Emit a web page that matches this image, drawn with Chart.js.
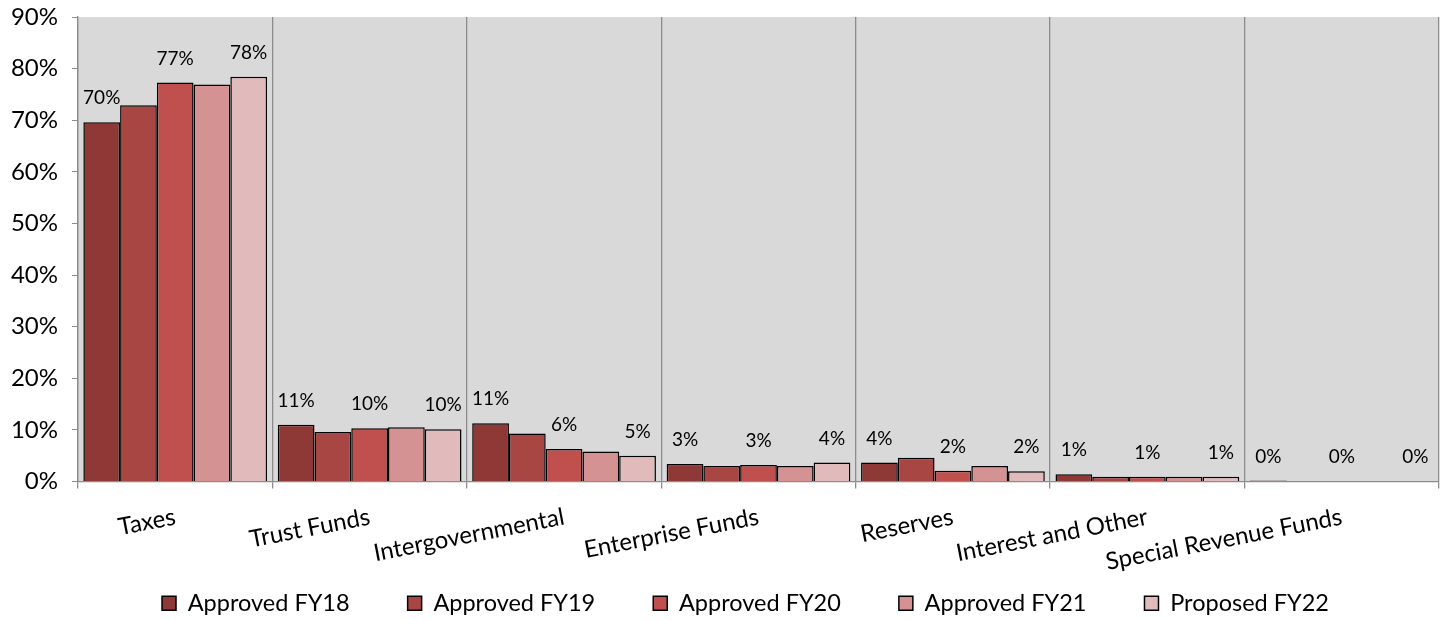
<!DOCTYPE html>
<html>
<head>
<meta charset="utf-8">
<script src="https://cdn.jsdelivr.net/npm/chart.js@4/dist/chart.umd.min.js"></script>
<style>
html,body{margin:0;padding:0;background:#fff;}
#wrap{width:1447px;height:620px;position:relative;}
</style>
</head>
<body>
<div id="wrap"><canvas id="c" width="1447" height="620"></canvas></div>
<script>
const categories = ["Taxes","Trust Funds","Intergovernmental","Enterprise Funds","Reserves","Interest and Other","Special Revenue Funds"];
const seriesNames = ["Approved FY18","Approved FY19","Approved FY20","Approved FY21","Proposed FY22"];
const approvedFY18 = [69.6, 11.0, 11.3, 3.4, 3.7, 1.4, 0.2];
const approvedFY19 = [72.9, 9.6, 9.3, 3.0, 4.6, 0.9, 0.1];
const approvedFY20 = [77.3, 10.3, 6.3, 3.2, 2.1, 0.9, 0.1];
const approvedFY21 = [76.9, 10.5, 5.8, 3.0, 3.0, 0.9, 0.1];
const proposedFY22 = [78.4, 10.1, 5.0, 3.7, 2.0, 0.9, 0.1];
const yTicks = [0,10,20,30,40,50,60,70,80,90];
const colors = ["#8F3937","#A84644","#C0504D","#D49392","#E1BBBC"];
const labelledSeries = [0,2,4];

const FONT = "Lato";
const allSeries = [approvedFY18, approvedFY19, approvedFY20, approvedFY21, proposedFY22];

const plotBg = {
  id:'plotBg',
  afterLayout(chart){
    // centre the legend row as in the reference (Chart.js counts trailing padding)
    const lg = chart.legend;
    if (lg) { lg.left += 26; lg.right += 26; }
  },
  beforeDraw(chart){
    const {ctx, chartArea:a} = chart;
    // let the rotated category labels extend below the axis box
    if (chart.scales.x) chart.scales.x._computeLabelArea = function(){ return undefined; };
    ctx.save(); ctx.fillStyle = '#D9D9D9';
    ctx.fillRect(a.left, a.top, a.right-a.left, a.bottom-a.top);
    ctx.restore();
  }
};
const valueLabels = {
  id:'valueLabels',
  afterDatasetsDraw(chart){
    const ctx = chart.ctx;
    ctx.save();
    ctx.font = "19px " + FONT;
    ctx.fillStyle = '#000';
    ctx.textAlign = 'center';
    ctx.textBaseline = 'middle';
    labelledSeries.forEach(di=>{
      const meta = chart.getDatasetMeta(di);
      meta.data.forEach((bar,i)=>{
        const v = chart.data.datasets[di].data[i];
        ctx.fillText(Math.round(v)+'%', bar.x, bar.y-24);
      });
    });
    ctx.restore();
  }
};

new Chart(document.getElementById('c'), {
  type:'bar',
  data:{
    labels: categories,
    datasets: allSeries.map((d,i)=>({
      label: seriesNames[i],
      data: d,
      backgroundColor: colors[i],
      borderColor: '#000',
      borderWidth: 1.5,
      barPercentage: 1.0,
      categoryPercentage: 0.945
    }))
  },
  options:{
    responsive:false,
    animation:false,
    layout:{padding:{top:17,right:8,left:0,bottom:-5}},
    plugins:{
      tooltip:{enabled:false},
      legend:{
        position:'bottom',
        labels:{
          font:{family:FONT,size:23.5},
          color:'#000',
          boxWidth:14, boxHeight:14,
          padding:58,
          generateLabels(chart){
            return chart.data.datasets.map((ds,i)=>({
              text: ds.label, fillStyle: ds.backgroundColor, strokeStyle:'#000',
              lineWidth:1.5, hidden:false, datasetIndex:i, fontColor:'#000'
            }));
          }
        }
      }
    },
    scales:{
      x:{
        offset:true,
        grid:{offset:true, color:'#8C8C8C', lineWidth:1.3, drawOnChartArea:true, drawTicks:true, tickLength:7, tickColor:'#8C8C8C'},
        border:{color:'#8C8C8C', width:1.3},
        ticks:{autoSkip:false, minRotation:11, maxRotation:11, color:'#000', font:{family:FONT,size:24}, padding:14},
        afterFit(s){ s.height = 52; s.paddingTop = 0; }
      },
      y:{
        min:0, max:90,
        afterBuildTicks(s){ s.ticks = yTicks.map(v=>({value:v})); },
        grid:{drawOnChartArea:false, drawTicks:true, tickLength:6, tickColor:'#8C8C8C'},
        border:{color:'#8C8C8C', width:1.3},
        ticks:{color:'#000', font:{family:FONT,size:24}, padding:14, callback:v=>v+'%'},
        afterFit(s){ s.width = 78; s.paddingTop = 0; s.paddingBottom = 0; }
      }
    }
  },
  plugins:[plotBg, valueLabels]
});
</script>
</body>
</html>
